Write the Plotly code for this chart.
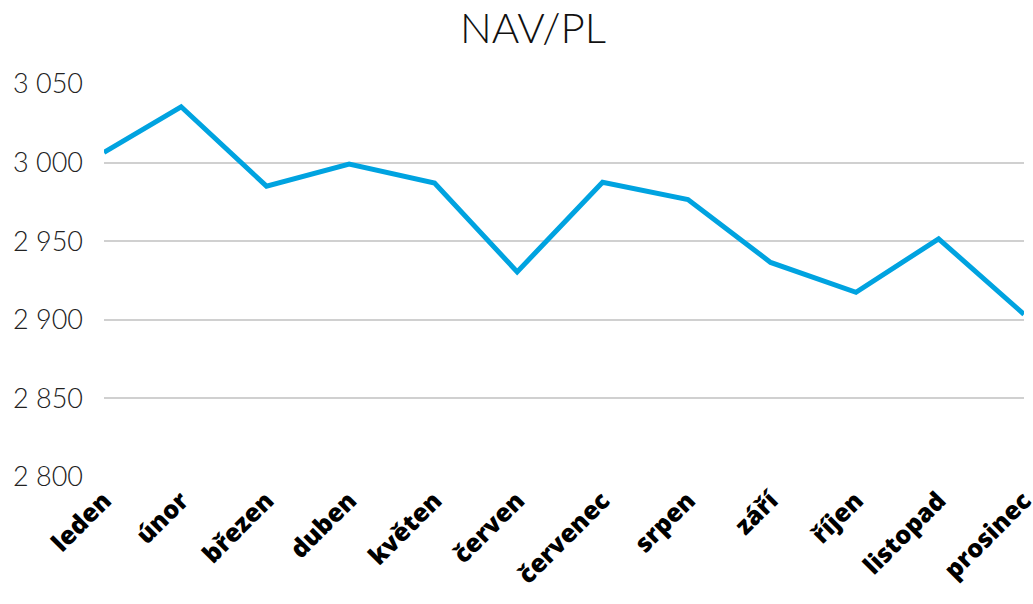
import plotly.graph_objects as go

months = ["leden", "únor", "březen", "duben", "květen", "červen",
          "červenec", "srpen", "září", "říjen", "listopad", "prosinec"]
dates = ["2022-01-31", "2022-02-28", "2022-03-31", "2022-04-30", "2022-05-31", "2022-06-30",
         "2022-07-31", "2022-08-31", "2022-09-30", "2022-10-31", "2022-11-30", "2022-12-31"]
nav = [3006.5, 3035.5, 2985.0, 2999.0, 2987.0, 2930.5,
       2987.5, 2976.5, 2936.5, 2917.5, 2951.5, 2903.5]
y_ticks = [2800, 2850, 2900, 2950, 3000, 3050]

fig = go.Figure()
fig.add_trace(go.Scatter(
    x=dates, y=nav, mode="lines",
    line=dict(color="#00A3E0", width=5),
    showlegend=False, cliponaxis=False,
))

fig.update_layout(
    width=1033, height=604,
    paper_bgcolor="white", plot_bgcolor="white",
    margin=dict(l=104, r=9, t=84, b=127, autoexpand=False),
    separators=", ",
    title=dict(text="NAV/PL", x=0.516, xanchor="center", y=0.953, yanchor="middle",
               font=dict(family="Lato", size=42, color="#111111", weight=300)),
    xaxis=dict(
        type="date",
        range=[dates[0], dates[-1]],
        tickmode="array", tickvals=dates, ticktext=months,
        tickangle=-45,
        tickfont=dict(family="Open Sans", size=25, color="#000000", weight=800),
        showgrid=False, zeroline=False, showline=False, ticks="",
        ticklabelstandoff=3, automargin=False,
        ticklabeloverflow="allow",
    ),
    yaxis=dict(
        range=[y_ticks[0], y_ticks[-1]],
        tickmode="array", tickvals=y_ticks,
        tickformat=",d",
        tickfont=dict(family="Lato", size=27, color="#222222", weight=300),
        showgrid=True, gridcolor="#D0D0D0", gridwidth=1.5,
        zeroline=False, showline=False, ticks="",
        ticklabelstandoff=20, automargin=False,
    ),
)

fig.write_html("out.html", config={"displayModeBar": False},
               post_script="document.body.style.margin='0';document.body.style.overflow='hidden';")
